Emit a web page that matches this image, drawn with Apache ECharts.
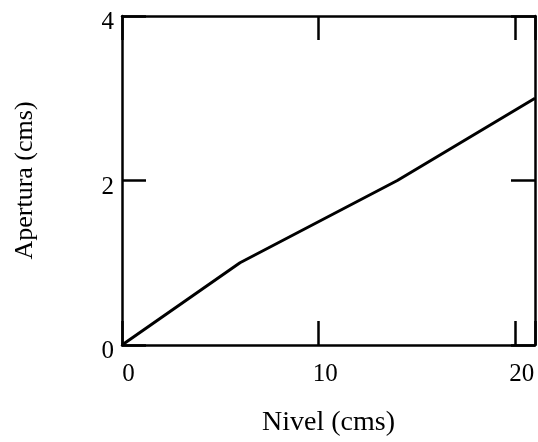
<!DOCTYPE html>
<html>
<head>
<meta charset="utf-8">
<script src="https://cdn.jsdelivr.net/npm/echarts@6/dist/echarts.min.js"></script>
<style>html,body{margin:0;padding:0;background:#fff;}#c{width:538px;height:442px;}</style>
</head>
<body>
<div id="c"></div>
<script>
var nivel = [0, 6, 14, 21];
var apertura = [0, 1, 2, 3];
var xTicks = [0, 10, 20];
var yTicks = [0, 2, 4];
var xTitle = 'Nivel (cms)';
var yTitle = 'Apertura (cms)';

var font = '"Liberation Serif", "Times New Roman", serif';
var chart = echarts.init(document.getElementById('c'), null, {renderer: 'canvas'});
var lineStyle = {color: '#000', width: 2.5};
function xfmt(v){ return xTicks.indexOf(v) >= 0 ? '{a|' + v + '}' : ''; }
function yfmt(v){ return yTicks.indexOf(v) >= 0 ? '{a|' + v + '}' : ''; }
chart.setOption({
  backgroundColor: '#fff',
  animation: false,
  grid: {left: 122, right: 3, top: 16, bottom: 90},
  xAxis: [{
    type: 'value', min: 0, max: 21, interval: 10, position: 'bottom',
    name: xTitle, nameLocation: 'middle', nameGap: 64,
    nameTextStyle: {fontFamily: font, fontSize: 28, color: '#000'},
    axisLine: {show: true, onZero: false, lineStyle: lineStyle},
    axisTick: {show: true, inside: true, length: 24, lineStyle: lineStyle},
    axisLabel: {margin: 17, formatter: xfmt,
      rich: {a: {fontFamily: font, fontSize: 25, color: '#000', padding: [0,0,0,13]}}},
    splitLine: {show: false}
  }, {
    type: 'value', min: 0, max: 21, interval: 10, position: 'top',
    axisLine: {show: true, onZero: false, lineStyle: lineStyle},
    axisTick: {show: true, inside: true, length: 24, lineStyle: lineStyle},
    axisLabel: {show: false},
    splitLine: {show: false}
  }],
  yAxis: [{
    type: 'value', min: 0, max: 4, interval: 2, position: 'left',
    name: yTitle, nameLocation: 'middle', nameGap: 84, nameRotate: 90,
    nameTextStyle: {fontFamily: font, fontSize: 26, color: '#000'},
    axisLine: {show: true, onZero: false, lineStyle: lineStyle},
    axisTick: {show: true, inside: true, length: 24, lineStyle: lineStyle},
    axisLabel: {margin: 8, formatter: yfmt,
      rich: {a: {fontFamily: font, fontSize: 25, color: '#000', padding: [13,0,0,0]}}},
    splitLine: {show: false}
  }, {
    type: 'value', min: 0, max: 4, interval: 2, position: 'right',
    axisLine: {show: true, onZero: false, lineStyle: lineStyle},
    axisTick: {show: true, inside: true, length: 24, lineStyle: lineStyle},
    axisLabel: {show: false},
    splitLine: {show: false}
  }],
  series: [{
    type: 'line',
    xAxisIndex: 0, yAxisIndex: 0,
    data: nivel.map(function(x, i){ return [x, apertura[i]]; }),
    showSymbol: false,
    lineStyle: {color: '#000', width: 3},
    clip: false
  }]
});
</script>
</body>
</html>
